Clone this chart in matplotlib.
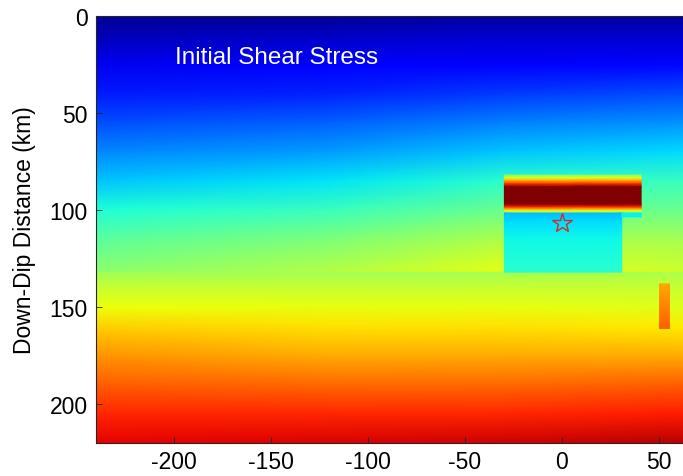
import numpy as np
import matplotlib
matplotlib.use("Agg")
import matplotlib.pyplot as plt

# background stress field (normalised 0..1 on the jet scale), columns at X_NODES
X_NODES = [-240, -120, -30, 70]
DEPTH_NODES = [0, 10, 25, 40, 55, 70, 85, 100, 115, 132, 132, 140, 150, 160, 175, 190, 205, 220]
STRESS_LEFT = [0.02, 0.05, 0.10, 0.15, 0.20, 0.26, 0.32, 0.39, 0.46, 0.52, 0.54, 0.59, 0.64, 0.69, 0.75, 0.81, 0.87, 0.91]
STRESS_MID = [0.02, 0.06, 0.11, 0.16, 0.22, 0.28, 0.35, 0.42, 0.50, 0.57, 0.55, 0.59, 0.63, 0.67, 0.73, 0.80, 0.87, 0.92]
STRESS_CENTRE = [0.03, 0.07, 0.12, 0.18, 0.25, 0.32, 0.40, 0.48, 0.56, 0.63, 0.55, 0.59, 0.63, 0.67, 0.73, 0.80, 0.87, 0.93]
STRESS_RIGHT = [0.03, 0.07, 0.13, 0.20, 0.27, 0.34, 0.42, 0.48, 0.55, 0.60, 0.56, 0.59, 0.62, 0.66, 0.73, 0.81, 0.88, 0.95]

# high stress band above the hypocentre
BAND_X = [-29.5, 41]
BAND_DEPTH = [82, 83.5, 85, 86.5, 88, 97, 98.5, 99.5, 100.5, 101.5]
BAND_STRESS = [0.52, 0.62, 0.74, 0.86, 1.0, 1.0, 0.86, 0.74, 0.62, 0.52]

# low stress block under the band
BLOCK_X = [-29.5, 31]
BLOCK_DEPTH = [101.5, 106, 115, 132]
BLOCK_STRESS = [0.31, 0.34, 0.37, 0.40]
STRIP_X = [31, 41]
STRIP_DEPTH = [101.5, 103.5]
STRIP_STRESS = [0.36, 0.36]

# small patch on the right
BAR_X = [50.5, 55.6]
BAR_DEPTH = [138, 161]
BAR_STRESS = [0.73, 0.81]

HYPO_X = 0
HYPO_DEPTH = 106.7

plt.rcParams['font.family'] = ['Liberation Sans', 'DejaVu Sans']
plt.rcParams['axes.unicode_minus'] = False

fig = plt.figure(figsize=(6.83, 4.77), dpi=100)
ax = fig.add_axes([96 / 683, 33 / 477, 310 * 1.94 / 683, 427 / 477])

cmap = plt.get_cmap('jet')
kw = dict(cmap=cmap, vmin=0, vmax=1, shading='gouraud')

bg = np.column_stack([STRESS_LEFT, STRESS_MID, STRESS_CENTRE, STRESS_RIGHT])
ax.pcolormesh(X_NODES, DEPTH_NODES, bg, **kw)

band = np.column_stack([BAND_STRESS, BAND_STRESS])
ax.pcolormesh(BAND_X, BAND_DEPTH, band, **kw)

block = np.column_stack([BLOCK_STRESS, BLOCK_STRESS])
ax.pcolormesh(BLOCK_X, BLOCK_DEPTH, block, **kw)

strip = np.column_stack([STRIP_STRESS, STRIP_STRESS])
ax.pcolormesh(STRIP_X, STRIP_DEPTH, strip, **kw)

bar = np.column_stack([BAR_STRESS, BAR_STRESS])
ax.pcolormesh(BAR_X, BAR_DEPTH, bar, **kw)

ax.plot(HYPO_X, HYPO_DEPTH, marker='*', markersize=15, mfc='none', mec='#d42a2a', mew=1.0)

ax.text(-199.5, 21.0, 'Initial Shear Stress', color='white', fontsize=17.5, va='center', ha='left')

ax.set_xlim(-240, 70)
ax.set_ylim(220, 0)
ax.set_xticks([-200, -150, -100, -50, 0, 50])
ax.set_yticks([0, 50, 100, 150, 200])
ax.tick_params(direction='in', length=4, width=0.6, labelsize=16.5, pad=6, colors='#262626', labelcolor='black')
ax.tick_params(axis='x', pad=5)
for sp in ax.spines.values():
    sp.set_color('#262626')
    sp.set_linewidth(0.8)

ax.set_ylabel('Down-Dip Distance (km)', fontsize=16.5)
ax.yaxis.set_label_coords(-0.10, 0.5)

fig.savefig('out.png', dpi=100)
